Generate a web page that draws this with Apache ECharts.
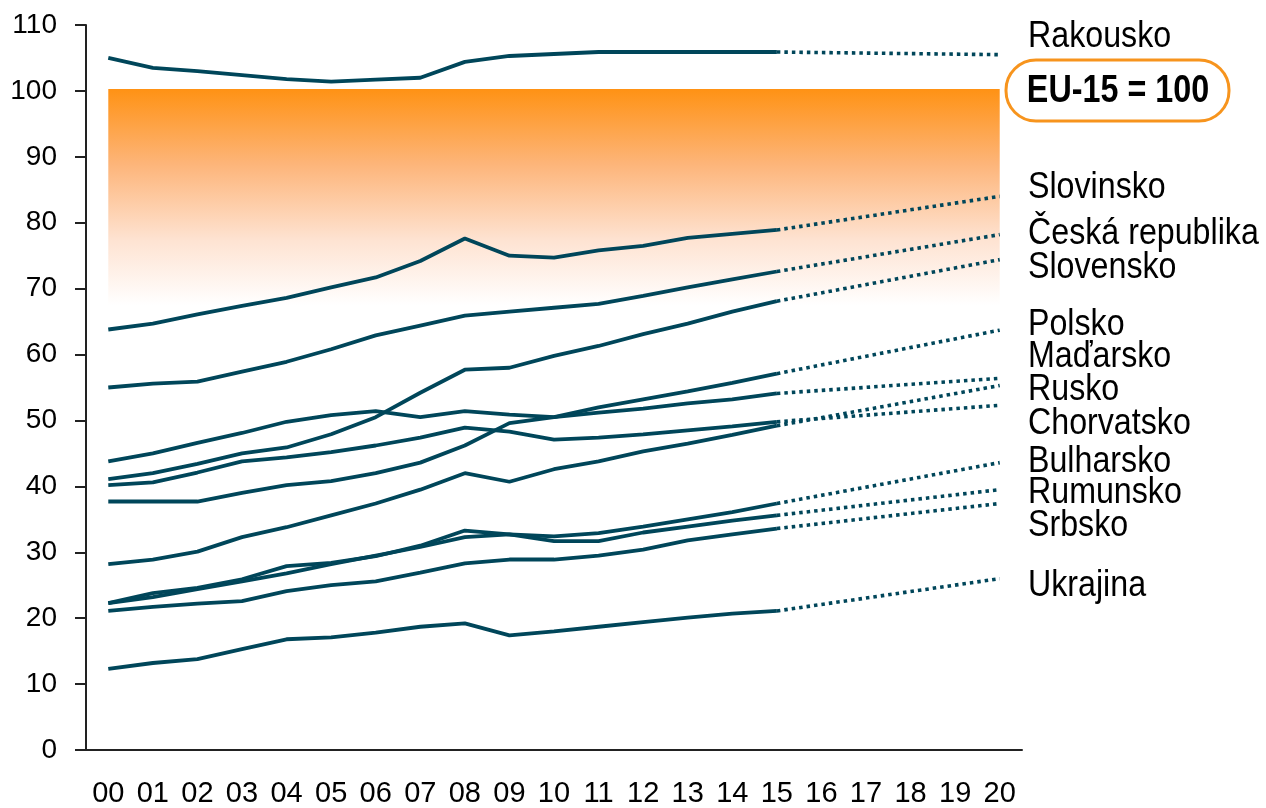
<!DOCTYPE html>
<html>
<head>
<meta charset="utf-8">
<script src="https://cdn.jsdelivr.net/npm/echarts@6/dist/echarts.min.js"></script>
<style>
html,body{margin:0;padding:0;background:#fff;}
#chart{width:1266px;height:808px;}
</style>
</head>
<body>
<div id="chart"></div>
<script>
const years = ['00','01','02','03','04','05','06','07','08','09','10','11','12','13','14','15','16','17','18','19','20'];

// actual values 2000-2015
const rakousko   = [105, 103.5, 103, 102.4, 101.8, 101.4, 101.7, 102, 104.4, 105.3, 105.6, 105.9, 105.9, 105.9, 105.9, 105.9];
const slovinsko  = [63.8, 64.7, 66.1, 67.4, 68.6, 70.2, 71.7, 74.2, 77.6, 75, 74.7, 75.8, 76.5, 77.7, 78.3, 78.9];
const cesko      = [55, 55.6, 55.9, 57.4, 58.9, 60.8, 62.9, 64.4, 65.9, 66.5, 67.1, 67.7, 68.9, 70.2, 71.4, 72.6];
const slovensko  = [41.1, 42, 43.4, 45, 45.9, 47.9, 50.5, 54.2, 57.7, 58, 59.8, 61.3, 63.1, 64.7, 66.5, 68.1];
const polsko     = [37.7, 37.7, 37.7, 39, 40.2, 40.8, 42, 43.6, 46.2, 49.6, 50.5, 52, 53.2, 54.4, 55.7, 57.1];
const madarsko   = [43.8, 45, 46.6, 48.1, 49.8, 50.8, 51.4, 50.5, 51.4, 50.9, 50.5, 51.2, 51.8, 52.6, 53.2, 54.1];
const rusko      = [28.2, 28.9, 30.1, 32.3, 33.8, 35.6, 37.4, 39.5, 42, 40.7, 42.6, 43.8, 45.3, 46.5, 47.8, 49.2];
const chorvatsko = [40.2, 40.6, 42.1, 43.8, 44.4, 45.2, 46.2, 47.4, 48.9, 48.3, 47.1, 47.4, 47.9, 48.5, 49.1, 49.8];
const bulharsko  = [22.3, 23.2, 24.4, 25.6, 26.8, 28.2, 29.5, 30.8, 32.3, 32.7, 32.4, 32.9, 33.9, 35, 36.1, 37.4];
const rumunsko   = [22.3, 23.8, 24.6, 25.9, 27.9, 28.4, 29.4, 31, 33.3, 32.7, 31.7, 31.7, 33, 33.9, 34.8, 35.6];
const srbsko     = [21.1, 21.7, 22.2, 22.6, 24.1, 25, 25.6, 26.9, 28.3, 28.9, 28.9, 29.5, 30.4, 31.8, 32.7, 33.6];
const ukrajina   = [12.3, 13.2, 13.8, 15.3, 16.8, 17.1, 17.8, 18.7, 19.2, 17.4, 18, 18.7, 19.4, 20.1, 20.7, 21.1];

// projections for 2020
const projection2020 = {
  Rakousko: 105.5, Slovinsko: 84, Cesko: 78.2, Slovensko: 74.4, Polsko: 63.7, Madarsko: 56.4,
  Rusko: 55.3, Chorvatsko: 52.3, Bulharsko: 43.6, Rumunsko: 39.5, Srbsko: 37.4, Ukrajina: 26
};

const countries = [
  ['Rakousko', rakousko, projection2020.Rakousko],
  ['Slovinsko', slovinsko, projection2020.Slovinsko],
  ['Česká republika', cesko, projection2020.Cesko],
  ['Slovensko', slovensko, projection2020.Slovensko],
  ['Polsko', polsko, projection2020.Polsko],
  ['Maďarsko', madarsko, projection2020.Madarsko],
  ['Rusko', rusko, projection2020.Rusko],
  ['Chorvatsko', chorvatsko, projection2020.Chorvatsko],
  ['Bulharsko', bulharsko, projection2020.Bulharsko],
  ['Rumunsko', rumunsko, projection2020.Rumunsko],
  ['Srbsko', srbsko, projection2020.Srbsko],
  ['Ukrajina', ukrajina, projection2020.Ukrajina]
];

// band (EU-15 benchmark gradient)
const bandTop = 100.3;
const bandBottom = 67.5;

// right-side labels
const labelNames = ['Rakousko','Slovinsko','Česká republika','Slovensko','Polsko','Maďarsko','Rusko','Chorvatsko','Bulharsko','Rumunsko','Srbsko','Ukrajina'];
const labelY = [37, 188, 234, 268, 325, 357, 390, 424, 462, 493, 526, 586];

const LINE = '#00465a';
const FONT = "'Liberation Sans', Arial, sans-serif";

const series = [];
countries.forEach(([name, vals, end], idx) => {
  const solid = vals.concat(new Array(years.length - vals.length).fill(null));
  const dotted = new Array(years.length).fill(null);
  dotted[vals.length - 1] = vals[vals.length - 1];
  dotted[years.length - 1] = end;
  const s = {
    name: name, type: 'line', data: solid, symbol: 'none', smooth: false,
    lineStyle: { color: LINE, width: 3.8 }, z: 3, silent: true
  };
  if (idx === 0) {
    s.markArea = {
      silent: true,
      z: 1,
      itemStyle: {
        color: {
          type: 'linear', x: 0, y: 0, x2: 0, y2: 1,
          colorStops: [
            { offset: 0, color: '#ff9214' },
            { offset: 0.35, color: '#fdb57a' },
            { offset: 0.7, color: '#fee3d2' },
            { offset: 1, color: '#ffffff' }
          ]
        }
      },
      data: [[{ xAxis: '00', yAxis: bandTop }, { xAxis: '20', yAxis: bandBottom }]]
    };
  }
  series.push(s);
  series.push({
    name: name + ' (projekce)', type: 'line', data: dotted, symbol: 'none', connectNulls: true,
    lineStyle: { color: LINE, width: 3.6, type: [3.5, 4], cap: 'butt' }, z: 3, silent: true
  });
});

const graphic = labelNames.map((t, i) => ({
  type: 'text', x: 1028, y: labelY[i], scaleX: 0.87,
  style: { text: t, font: '37px ' + FONT, fill: '#000', verticalAlign: 'middle', align: 'left' }
}));
graphic.push({
  type: 'rect', shape: { x: 1006, y: 60, width: 223, height: 61, r: 30 },
  style: { fill: 'none', stroke: '#f7941d', lineWidth: 3 }
});
graphic.push({
  type: 'text', x: 1118, y: 92, scaleX: 0.85,
  style: { text: 'EU-15 = 100', font: 'bold 38px ' + FONT, fill: '#000', verticalAlign: 'middle', align: 'center' }
});

const chart = echarts.init(document.getElementById('chart'), null, { renderer: 'canvas' });
chart.setOption({
  animation: false,
  backgroundColor: '#fff',
  grid: { left: 86, right: 244, top: 25, bottom: 58, containLabel: false },
  xAxis: {
    type: 'category', data: years, boundaryGap: true,
    axisLine: { lineStyle: { color: '#222', width: 2 } },
    axisTick: { show: false },
    axisLabel: { color: '#000', fontSize: 29, fontFamily: FONT, margin: 29, interval: 0 },
    splitLine: { show: false }
  },
  yAxis: {
    type: 'value', min: 0, max: 110, interval: 10,
    axisLine: { show: true, lineStyle: { color: '#222', width: 2 } },
    axisTick: { show: true, length: 11, lineStyle: { color: '#222', width: 2 } },
    axisLabel: { color: '#000', fontSize: 28, fontFamily: FONT, margin: 29 },
    splitLine: { show: false }
  },
  series: series,
  graphic: graphic
});
</script>
</body>
</html>
